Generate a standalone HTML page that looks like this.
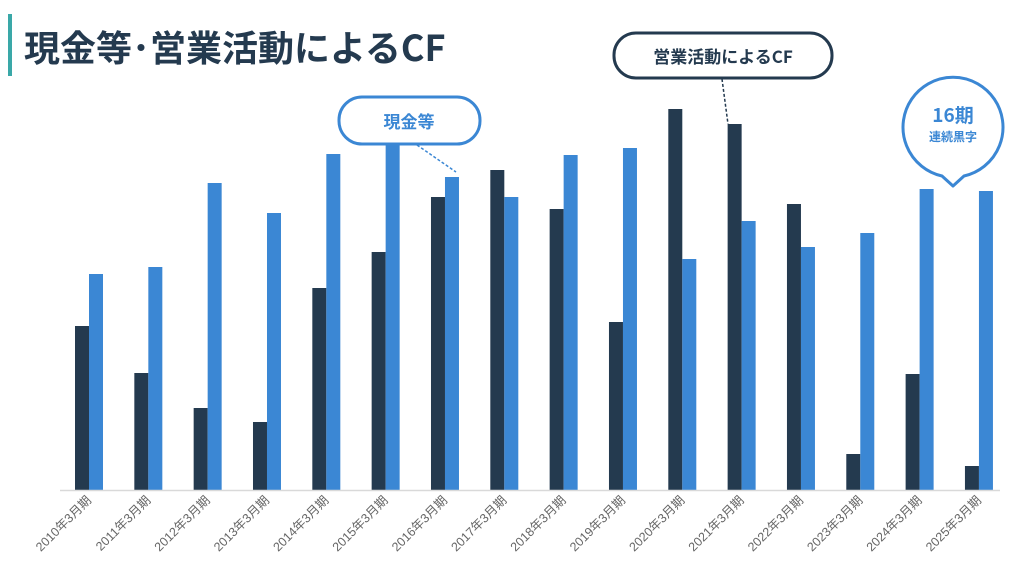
<!DOCTYPE html>
<html><head><meta charset="utf-8"><style>
body{margin:0;width:1024px;height:579px;background:#fff;overflow:hidden;font-family:"Liberation Sans","Noto Sans CJK JP",sans-serif;}
</style></head><body>
<svg width="1024" height="579" style="position:absolute;left:0;top:0">
<rect x="8" y="14" width="4" height="62" fill="#3aa8a8"/>
<text x="24" y="61" font-size="36" font-weight="bold" fill="#243a4f" font-family="Noto Sans CJK JP, sans-serif">現金等･営業活動によるCF</text>
<g id="bars"></g>
<line x1="60" y1="490.5" x2="1000" y2="490.5" stroke="#d9d9d9" stroke-width="1.5"/>
<g id="labels"></g>
<line x1="417" y1="145" x2="456" y2="172" stroke="#3b87d4" stroke-width="1.5" stroke-dasharray="3,2"/>
<rect x="339" y="97" width="141" height="47" rx="23" fill="#fff" stroke="#3b87d4" stroke-width="3"/>
<text x="409" y="128" text-anchor="middle" font-size="17" font-weight="bold" fill="#3b87d4" font-family="Noto Sans CJK JP, sans-serif">現金等</text>
<line x1="722" y1="79" x2="728" y2="124" stroke="#243a4f" stroke-width="1.5" stroke-dasharray="3,2"/>
<rect x="614" y="33" width="218" height="45" rx="22" fill="#fff" stroke="#243a4f" stroke-width="3"/>
<text x="723" y="63" text-anchor="middle" font-size="17" font-weight="bold" fill="#243a4f" font-family="Noto Sans CJK JP, sans-serif">営業活動によるCF</text>
<path d="M942,176 A50,50 0 1 1 964,176 L953,186 Z" fill="#fff" stroke="#3b87d4" stroke-width="3" stroke-linejoin="round"/>
<text x="953" y="122" text-anchor="middle" font-size="19" font-weight="bold" fill="#3b87d4" font-family="Noto Sans CJK JP, sans-serif">16期</text>
<text x="953" y="141" text-anchor="middle" font-size="12" font-weight="bold" fill="#3b87d4" font-family="Noto Sans CJK JP, sans-serif">連続黒字</text>
</svg>
<script>
const categories=["2010年3月期","2011年3月期","2012年3月期","2013年3月期","2014年3月期","2015年3月期","2016年3月期","2017年3月期","2018年3月期","2019年3月期","2020年3月期","2021年3月期","2022年3月期","2023年3月期","2024年3月期","2025年3月期"];
const opcf=[164,117,82,68,202,238,293,320,281,168,381,366,286,36,116,24];
const cash=[216,223,307,277,336,350,313,293,335,342,231,269,243,257,301,299];
const baseY=490, x0=75, step=59.33, bw=14, scale=1;
function xPos(i){return x0+i*step;}
function yPos(v){return baseY-v*scale;}
const NS="http://www.w3.org/2000/svg";
const gb=document.getElementById('bars'), gl=document.getElementById('labels');
categories.forEach((c,i)=>{
  const x=xPos(i);
  const r1=document.createElementNS(NS,'rect');
  r1.setAttribute('x',x);r1.setAttribute('y',yPos(opcf[i]));r1.setAttribute('width',bw);r1.setAttribute('height',baseY-yPos(opcf[i]));r1.setAttribute('fill','#243a4f');
  
  
  gb.appendChild(r1);
  const r2=document.createElementNS(NS,'rect');
  r2.setAttribute('x',x+bw);r2.setAttribute('y',yPos(cash[i]));r2.setAttribute('width',bw);r2.setAttribute('height',baseY-yPos(cash[i]));r2.setAttribute('fill','#3b87d4');
  
  
  gb.appendChild(r2);
  const t=document.createElementNS(NS,'text');
  const tx=x+bw+3, ty=501;
  t.setAttribute('x',tx);t.setAttribute('y',ty);t.setAttribute('text-anchor','end');t.setAttribute('font-size','12.5');t.setAttribute('fill','#666');
  t.setAttribute('transform','rotate(-45 '+tx+' '+ty+')');
  t.textContent=c;
  
  
  gl.appendChild(t);
});
</script>
</body></html>
